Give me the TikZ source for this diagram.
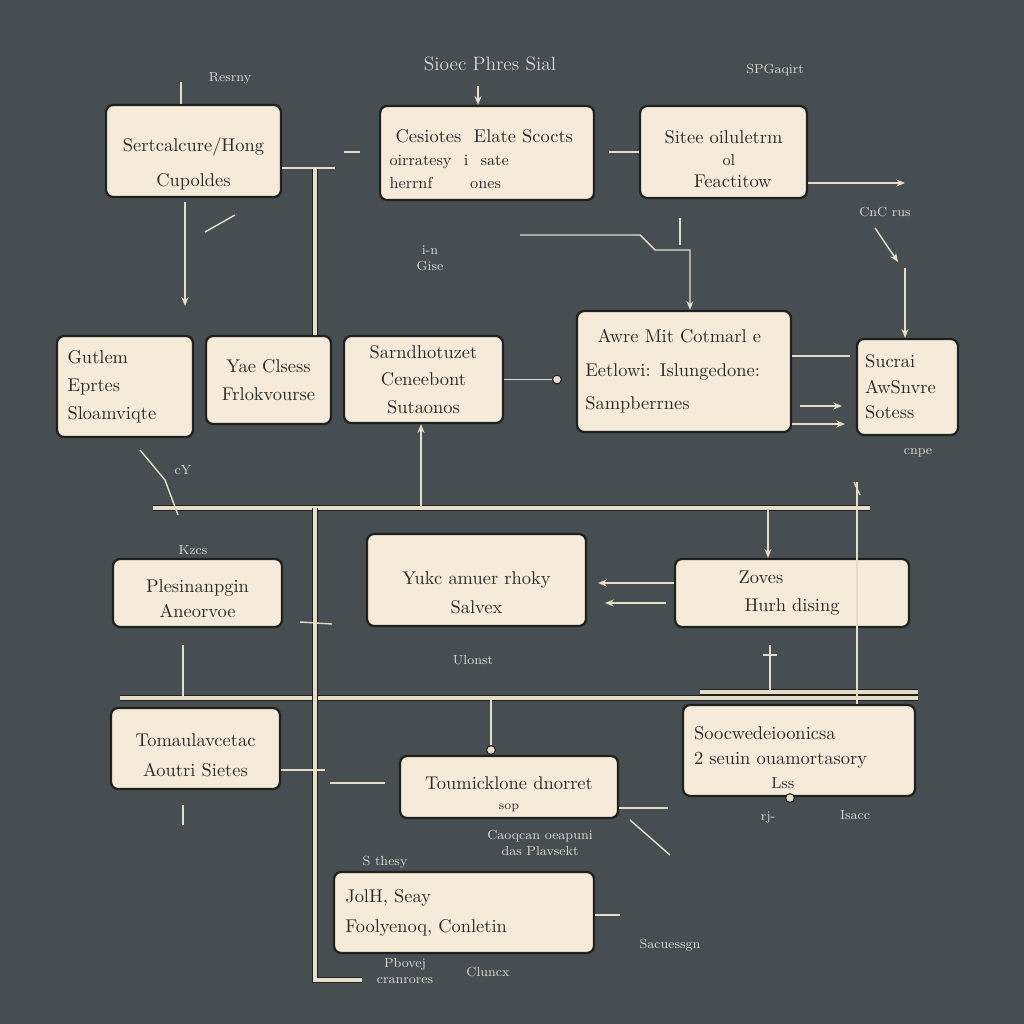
\documentclass[tikz,border=0pt]{standalone}
\usetikzlibrary{arrows.meta}
\definecolor{bgc}{HTML}{474E51}
\definecolor{boxc}{HTML}{F5EBD8}
\definecolor{edgec}{HTML}{1F2020}
\definecolor{linec}{HTML}{E6DDC9}
\definecolor{txtc}{HTML}{2A2A2A}
\definecolor{lblc}{HTML}{DCD8D0}
\newcommand\dnsh[1]{\rule{0pt}{#1}}
\begin{document}
\begin{tikzpicture}[x=0.02cm,y=-0.02cm,
  box/.style={draw=edgec, fill=boxc, line width=1.3pt, rounded corners=4pt, text=txtc,
    font=\fontsize{10.5}{15}\selectfont, align=center, inner sep=3pt},
  conn/.style={draw=linec, line width=0.8pt},
  arr/.style={conn, -{Stealth[length=5pt,width=4pt]}},
  bus/.style={draw=edgec, line width=0.5pt, double=linec, double distance=2.2pt},
  lbl/.style={text=lblc, font=\fontsize{7.5}{9}\selectfont, inner sep=1pt, align=center},
  dotc/.style={circle, fill=linec, draw=edgec, line width=0.6pt, inner sep=0pt, minimum size=5pt}]
\fill[bgc] (0,0) rectangle (1024,1024);

% ---------- boxes ----------
\node[box, minimum width=3.5cm, minimum height=1.84cm, font=\fontsize{10.5}{20}\selectfont] (B1) at (193.5,151) {\dnsh{23pt}Sertcalcure/Hong\\ Cupoldes};
\node[box, minimum width=4.28cm, minimum height=1.88cm, align=left, text width=3.9cm, font=\fontsize{10.5}{13}\selectfont] (B2) at (487,153) {\dnsh{14pt}\ Cesiotes \ Elate Scocts\\ {\small oirratesy \ i \ sate}\\ {\small herrnf \qquad ones}};
\node[box, minimum width=3.34cm, minimum height=1.84cm, font=\fontsize{10.5}{12.5}\selectfont] (B3) at (723.5,152) {\dnsh{16pt}Sitee oiluletrm\\ {\small \ \ ol}\\ \quad Feactitow};
\node[box, minimum width=2.72cm, minimum height=2.02cm, align=left, text width=2.3cm, font=\fontsize{10.5}{16}\selectfont] (B4) at (125,386.5) {Gutlem\\ Eprtes\\ Sloamviqte};
\node[box, minimum width=2.5cm, minimum height=1.76cm, font=\fontsize{10.5}{15.5}\selectfont] (B5) at (268.5,380) {Yae Clsess\\ Frlokvourse};
\node[box, minimum width=3.18cm, minimum height=1.74cm, font=\fontsize{10.5}{15.5}\selectfont] (B6) at (423.5,379.5) {Sarndhotuzet\\ Ceneebont\\ Sutaonos};
\node[box, minimum width=4.28cm, minimum height=2.42cm, align=left, text width=3.95cm, font=\fontsize{10.5}{19}\selectfont] (B7) at (684,371.5) {\ \ Awre Mit Cotmarl e\\ Eetlowi: Islungedone:\\ Sampberrnes};
\node[box, minimum width=2.02cm, minimum height=1.92cm, align=left, text width=1.7cm, font=\fontsize{10.5}{14.5}\selectfont] (B8) at (907.5,387) {Sucrai\\ AwSnvre\\ Sotess};
\node[box, minimum width=3.38cm, minimum height=1.36cm, font=\fontsize{10.5}{14.5}\selectfont] (B9) at (197.5,593) {\dnsh{14pt}Plesinanpgin\\ Aneorvoe};
\node[box, minimum width=4.38cm, minimum height=1.84cm, font=\fontsize{10.5}{16.5}\selectfont] (B10) at (476.5,580) {\dnsh{22pt}Yukc amuer rhoky\\ Salvex};
\node[box, minimum width=4.68cm, minimum height=1.36cm, font=\fontsize{10.5}{16}\selectfont] (B11) at (792,593) {Zoves\hspace*{1.24cm}\\ Hurh dising};
\node[box, minimum width=3.38cm, minimum height=1.62cm, font=\fontsize{10.5}{17}\selectfont] (B12) at (195.5,748.5) {\dnsh{15.5pt}Tomaulavcetac\\ Aoutri Sietes};
\node[box, minimum width=4.36cm, minimum height=1.24cm, font=\fontsize{10.5}{11.5}\selectfont] (B13) at (509,787) {\dnsh{15.5pt}Toumicklone dnorret\\ {\scriptsize sop}};
\node[box, minimum width=4.64cm, minimum height=1.82cm, align=left, text width=4.2cm, font=\fontsize{10.5}{14}\selectfont] (B14) at (799,750.5) {\dnsh{15.5pt}Soocwedeioonicsa\\ 2 seuin ouamortasory\\ {\small\hspace*{44pt}Lss}};
\node[box, minimum width=5.2cm, minimum height=1.62cm, align=left, text width=4.75cm, font=\fontsize{10.5}{17}\selectfont] (B15) at (464,912.5) {JolH, Seay\\ Foolyenoq, Conletin};

% ---------- labels ----------
\node[lbl, font=\fontsize{11}{13}\selectfont] (T0) at (490,64) {Sioec Phres Sial};
\node[lbl] (L1) at (230,78) {Resrny};
\node[lbl] (L2) at (775,70) {SPGaqirt};
\node[lbl] (L3) at (885,212) {CnC rus};
\node[lbl] (L4) at (430,258) {i-n\\ Gise};
\node[lbl] (L5) at (183,470) {cY};
\node[lbl] (L6) at (193,550) {Kzcs};
\node[lbl] (L7) at (473,660) {Ulonst};
\node[lbl] (L8) at (540,843) {Caoqcan oeapuni\\ das Plavsekt};
\node[lbl] (L9) at (385,862) {S thesy};
\node[lbl] (L10) at (405,971) {Pbovej\\ cranrores};
\node[lbl] (L11) at (488,972) {Cluncx};
\node[lbl] (L12) at (670,945) {Sacuessgn};
\node[lbl] (L13) at (855,815) {Isacc};
\node[lbl] (L14) at (768,817) {rj-};
\node[lbl] (L15) at (918,453) {cnpe};

% ---------- coordinates ----------
\coordinate (j1) at (315,168);
\coordinate (c1) at (181,82);
\coordinate (a1) at (185,306);
\coordinate (t2) at (478,86);
\coordinate (a3) at (905,183);
\coordinate (r1) at (690,250);
\coordinate (a4) at (905,268);
\coordinate (u6) at (421,508);
\coordinate (u11) at (768,508);
\coordinate (bus1L) at (153,508);
\coordinate (bus1R) at (870,508);
\coordinate (bus2L) at (120,698);
\coordinate (bus2R) at (918,698);
\coordinate (v1) at (315,980);
\coordinate (v1e) at (362,980);
\coordinate (e7a) at (850,356);
\coordinate (e7b) at (842,406);
\coordinate (e7c) at (845,424);
\coordinate (l11a) at (598,583);
\coordinate (l11b) at (605,603);
\coordinate (v857) at (857,482);
\coordinate (u13) at (491,700);
\coordinate (u12) at (183,645);
\coordinate (r12) at (325,770);
\coordinate (r15) at (620,915);
\coordinate (r13) at (668,808);

% ---------- bus lines ----------
\draw[bus] (bus1L) -- (bus1R);
\draw[bus] (bus2L) -- (bus2R);
\draw[bus] (j1) -- (j1 |- B5.north);
\draw[bus] (bus1L -| j1) -- (v1) -- (v1e);
\draw[bus] (700,692) -- (918,692);

% ---------- connectors ----------
\draw[conn] (B1.east |- j1) -- (335,168);
\draw[conn] (c1) -- (c1 |- B1.north);
\draw[arr] (a1 |- B1.south) ++(0,4) -- (a1);
\draw[arr] (t2) -- (t2 |- B2.north);
\draw[conn] (344,152) -- (360,152);
\draw[conn] (B3.west) -- ++(-30,0);
\draw[arr] (B3.east |- a3) -- (a3);
\draw[arr] (520,235) -- (640,235) -- (655,250) -- (r1) -- (r1 |- B7.north);
\draw[conn] (680,218) -- (680,245);
\draw[arr] (875,228) -- (898,262);
\draw[arr] (a4) -- (a4 |- B8.north);
\node[dotc] (d6) at (557,379.5) {};
\draw[conn] (B6.east) -- (d6);
\draw[conn] (e7a -| B7.east) -- (e7a);
\draw[arr] (e7b -| B7.east) ++(8,0) -- (e7b);
\draw[arr] (e7c -| B7.east) -- (e7c);
\draw[arr] (u6) -- (u6 |- B6.south);
\draw[arr] (u11) -- (u11 |- B11.north);
\draw[conn] (v857) -- (v857 |- bus2R);
\draw[conn] (v857 |- bus2R) -- (v857 |- B14.north);
\draw[conn] (140,450) -- (165,480) -- (178,515);
\draw[arr] (l11a -| B11.west) -- (l11a);
\draw[arr] (l11b -| B11.west) ++(-8,0) -- (l11b);
\draw[conn] (300,622) -- (332,624);
\draw[conn] (u12) -- (u12 |- bus2L);
\node[dotc] (d13) at (491,750) {};
\draw[conn] (u13) -- (d13);
\draw[conn] (B12.east |- r12) -- (r12);
\draw[conn] (330,783) -- (385,783);
\draw[conn] (B13.east |- r13) -- (r13);
\draw[conn] (630,820) -- (670,855);
\node[dotc] (d14) at (790,798) {};
\draw[conn] (770,645) -- (770,690);
\draw[conn] (763,655) -- (777,655);
\draw[conn] (B15.east |- r15) -- (r15);
\draw[conn] (183,805) -- (183,825);
\draw[conn] (205,232) -- (235,215);
\draw[conn] (854,482) -- (860,495);
\end{tikzpicture}
\end{document}
